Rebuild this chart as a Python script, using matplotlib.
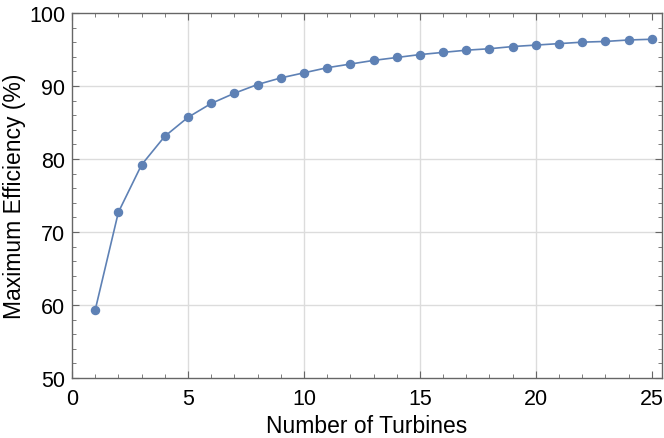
import matplotlib
matplotlib.use("Agg")
import matplotlib.pyplot as plt
from matplotlib.ticker import MultipleLocator

turbines = list(range(1, 26))
efficiency = [59.3, 72.7, 79.2, 83.1, 85.7, 87.6, 89.0, 90.2, 91.1, 91.8,
              92.5, 93.0, 93.5, 93.9, 94.3, 94.6, 94.9, 95.1, 95.4, 95.6,
              95.8, 96.0, 96.1, 96.3, 96.4]

plt.rcParams['font.family'] = ['Liberation Sans', 'DejaVu Sans']

fig = plt.figure(figsize=(6.64, 4.39), dpi=100)
ax = fig.add_axes([0.1084, 0.1367, 0.888, 0.8315])

color = '#5E81B5'
ax.plot(turbines, efficiency, '-o', color=color, lw=1.2, ms=5.8, zorder=3)

ax.set_xlim(0, 25.42)
ax.set_ylim(50, 100)
ax.xaxis.set_major_locator(MultipleLocator(5))
ax.xaxis.set_minor_locator(MultipleLocator(1))
ax.yaxis.set_major_locator(MultipleLocator(10))
ax.yaxis.set_minor_locator(MultipleLocator(2))

for x in [5, 10, 15, 20]:
    ax.axvline(x, color='#dcdcdc', lw=1.0, zorder=1)
for y in [60, 70, 80, 90]:
    ax.axhline(y, color='#dcdcdc', lw=1.0, zorder=1)

for s in ax.spines.values():
    s.set_color('#666666')
    s.set_linewidth(1.0)

ax.tick_params(which='both', direction='in', top=True, right=True,
               colors='#666666', labelcolor='black', labelsize=15.5)
ax.tick_params(which='major', length=5, width=0.8)
ax.tick_params(which='minor', length=3, width=0.6)
ax.tick_params(axis='x', pad=7)
ax.tick_params(axis='y', pad=5)

ax.set_xlabel('Number of Turbines', fontsize=16.5, labelpad=4)
ax.set_ylabel('Maximum Efficiency (%)', fontsize=16.5, labelpad=2)

fig.savefig('out.png', dpi=100)
